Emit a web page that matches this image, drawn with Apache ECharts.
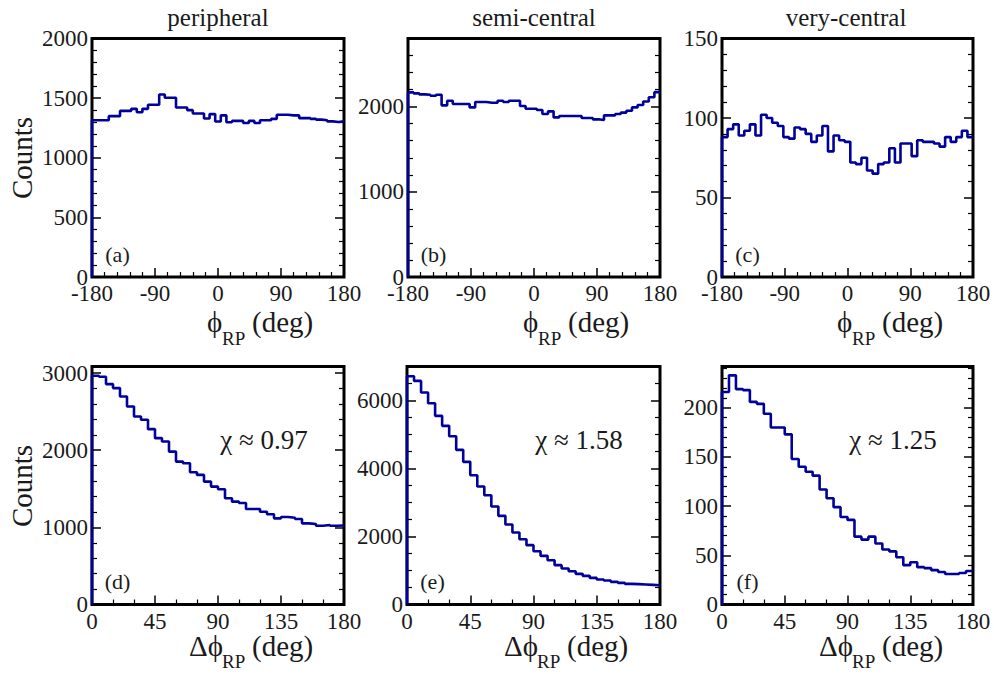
<!DOCTYPE html>
<html><head><meta charset="utf-8">
<script src="https://cdn.jsdelivr.net/npm/echarts@6/dist/echarts.min.js"></script>
<style>html,body{margin:0;padding:0;background:#fff}#c{width:994px;height:674px}</style>
</head><body><div id="c"></div>
<script>
// ---------- data ----------
const panelTitles = ['peripheral', 'semi-central', 'very-central'];
const panelTags = ['(a)', '(b)', '(c)', '(d)', '(e)', '(f)'];
const chiLabels = ['χ ≈ 0.97', 'χ ≈ 1.58', 'χ ≈ 1.25'];
const phiTickLabels = [-180, -90, 0, 90, 180];
const dphiTickLabels = [0, 45, 90, 135, 180];
const phiBinWidth = 8;   // deg, 45 bins over [-180,180]
const dphiBinWidth = 5;  // deg, 36 bins over [0,180]

const peripheralPhi = [1315,1315,1315,1349,1349,1393,1393,1410,1382,1410,
  1444,1444,1531,1503,1503,1422,1422,1399,1371,1371,
  1329,1366,1304,1355,1298,1309,1309,1292,1309,1292,
  1315,1315,1326,1360,1360,1355,1355,1332,1332,1326,
  1320,1315,1305,1300,1305];
const semiCentralPhi = [2167,2156,2144,2140,2128,2140,2015,2070,2031,2031,
  2031,1991,2054,2054,2046,2046,2070,2054,2070,2070,
  2007,1976,1976,1960,1913,1945,1874,1890,1890,1890,
  1890,1866,1866,1851,1843,1898,1898,1913,1930,1952,
  1991,2020,2060,2110,2170];
const veryCentralPhi = [88,93,96,89,92,96,89,102,100,97,
  95,88,87,94,93,90,85,89,95,79,
  89,86,85,72,71,75,67,65,71,72,
  81,72,84,84,76,86,85,85,84,82,
  88,85,88,92,88];
const peripheralDphi = [2965,2952,2857,2805,2697,2566,2437,2394,2273,2156,
  2112,1982,1852,1831,1714,1680,1593,1528,1493,1377,
  1333,1316,1238,1238,1203,1169,1117,1134,1125,1108,
  1052,1043,1021,1030,1020,1025];
const semiCentralDphi = [6715,6577,6235,5921,5548,5254,4950,4548,4195,3803,
  3471,3215,2882,2607,2353,2118,1921,1745,1568,1431,
  1303,1157,1059,980,901,842,783,735,706,666,
  637,607,598,588,578,568];
const veryCentralDphi = [216,233,219,218,206,204,194,180,180,173,
  148,140,135,131,117,108,99,89,86,69,
  66,69,62,56,54,48,40,43,38,37,
  35,33,31,31,32,34];

// y-axis ranges: [max, interval, minor splits, show max label]
const yAxisSpecs = [
  [2000, 500, 5, true], [2800, 1000, 5, false], [150, 50, 5, true],
  [3085, 1000, 5, false], [7000, 2000, 4, false], [242, 50, 5, false]
];

// ---------- layout ----------
const FONT = 'Liberation Serif';
const TXT = '#1a1a1a';
const LINE = '#00009a';
const grids = [
  {left: 92, top: 38.5, width: 252, height: 238.5},
  {left: 408, top: 38.5, width: 252, height: 238.5},
  {left: 722, top: 38.5, width: 251, height: 238.5},
  {left: 92, top: 366.5, width: 252, height: 238},
  {left: 407, top: 366.5, width: 253, height: 238},
  {left: 722, top: 366.5, width: 251, height: 238}
];
const histSets = [
  [peripheralPhi, phiTickLabels[0], phiBinWidth],
  [semiCentralPhi, phiTickLabels[0], phiBinWidth],
  [veryCentralPhi, phiTickLabels[0], phiBinWidth],
  [peripheralDphi, dphiTickLabels[0], dphiBinWidth],
  [semiCentralDphi, dphiTickLabels[0], dphiBinWidth],
  [veryCentralDphi, dphiTickLabels[0], dphiBinWidth]
];

function histPoints(vals, start, w) {
  const pts = [[start, 0]];
  vals.forEach((v, i) => pts.push([start + i * w, v]));
  pts.push([start + vals.length * w, vals[vals.length - 1]]);
  return pts;
}
const plain = v => String(v);

const tickLine = {color: '#000', width: 1.5};
const xAxes = [], yAxes = [], series = [];
grids.forEach((g, i) => {
  const top = i < 3;
  const ticks = top ? phiTickLabels : dphiTickLabels;
  xAxes.push({
    type: 'value', gridIndex: i, position: 'bottom',
    min: ticks[0], max: ticks[ticks.length - 1], interval: ticks[1] - ticks[0],
    axisLine: {show: false, onZero: false},
    axisTick: {show: true, inside: true, length: 9, lineStyle: tickLine},
    minorTick: {show: true, splitNumber: top ? 5 : 3, length: 5, lineStyle: {color: '#000', width: 1.2}},
    splitLine: {show: false},
    axisLabel: {show: true, margin: 5, fontSize: 23, fontFamily: FONT, color: TXT,
      showMinLabel: true, showMaxLabel: true, formatter: plain}
  });
  const [ymax, yint, ysplit, showMax] = yAxisSpecs[i];
  const common = {
    type: 'value', gridIndex: i, min: 0, max: ymax, interval: yint,
    axisLine: {show: false, onZero: false},
    axisTick: {show: true, inside: true, length: 9, lineStyle: tickLine},
    minorTick: {show: true, splitNumber: ysplit, length: 5, lineStyle: {color: '#000', width: 1.2}},
    splitLine: {show: false}
  };
  yAxes.push(Object.assign({}, common, {
    position: 'left',
    axisLabel: {show: true, margin: 4, fontSize: 23, fontFamily: FONT, color: TXT,
      showMinLabel: true, showMaxLabel: showMax, formatter: plain}
  }));
  yAxes.push(Object.assign({}, common, {position: 'right', axisLabel: {show: false}}));
  const [vals, start, w] = histSets[i];
  series.push({
    type: 'line', xAxisIndex: i, yAxisIndex: 2 * i, step: 'end',
    data: histPoints(vals, start, w), showSymbol: false, symbol: 'none',
    lineStyle: {color: LINE, width: 2.6}, clip: true, silent: true, z: 2
  });
});

// ---------- texts ----------
const graphic = [];
function txt(text, x, y, size, extra, align) {
  graphic.push(Object.assign({
    type: 'text', x: x, y: y, silent: true,
    style: {text: text, fontSize: size, fontFamily: FONT, fill: TXT,
      textAlign: align || 'center', align: align || 'center',
      textVerticalAlign: 'middle', verticalAlign: 'middle'}
  }, extra || {}));
}
const titleX = [218, 534, 846];
panelTitles.forEach((t, i) => txt(t, titleX[i], 17, 25));
grids.forEach((g, i) => txt(panelTags[i], g.left + 25.5, g.top + g.height - 23, 22));
const chiX = [264, 579, 893];
chiLabels.forEach((t, i) => txt(t, chiX[i], 440, 27));
txt('Counts', 22, 158, 29, {rotation: Math.PI / 2});
txt('Counts', 22, 486, 29, {rotation: Math.PI / 2});
[0, 316, 630].forEach(dx => {
  txt('ϕ', 207 + dx, 322, 29, null, 'left');
  txt('RP', 222 + dx, 338, 19, null, 'left');
  txt('(deg)', 252 + dx, 322, 29, null, 'left');
});
[0, 315, 630].forEach(dx => {
  txt('Δϕ', 189 + dx, 646, 29, null, 'left');
  txt('RP', 222 + dx, 661, 19, null, 'left');
  txt('(deg)', 252 + dx, 646, 29, null, 'left');
});

const chart = echarts.init(document.getElementById('c'), null, {renderer: 'svg'});
chart.setOption({
  animation: false,
  backgroundColor: '#fff',
  textStyle: {fontFamily: FONT},
  grid: grids.map(g => Object.assign({show: true, borderColor: '#000', borderWidth: 3,
    backgroundColor: 'transparent', containLabel: false}, g)),
  xAxis: xAxes,
  yAxis: yAxes,
  series: series,
  graphic: graphic
});
</script></body></html>
